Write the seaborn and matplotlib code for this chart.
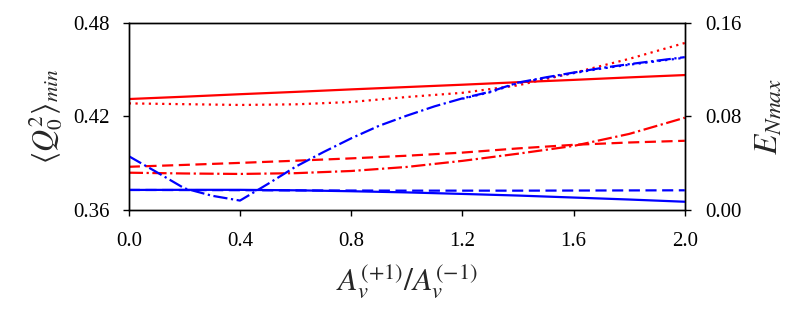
import numpy as np
import pandas as pd
import seaborn as sns
import matplotlib.pyplot as plt

# x grid (ratio A_v^(+1)/A_v^(-1))
ratio = [0.0, 0.2, 0.4, 0.6, 0.8, 1.0, 1.2, 1.4, 1.6, 1.8, 2.0]
ratio_fine = [0.0, 0.1, 0.2, 0.3, 0.4, 0.5, 0.6, 0.7, 0.8, 0.9, 1.0,
              1.1, 1.2, 1.3, 1.4, 1.5, 1.6, 1.7, 1.8, 1.9, 2.0]

# <Q0^2>_min curves (left axis, red)
q_solid = [0.4312, 0.4327, 0.4343, 0.4358, 0.4374, 0.4389, 0.4404, 0.4420, 0.4435, 0.4451, 0.4466]
q_dashed = [0.3877, 0.3889, 0.3902, 0.3916, 0.3931, 0.3948, 0.3968, 0.3995, 0.4018, 0.4033, 0.4044]
q_dashdot = [0.3839, 0.3834, 0.3831, 0.3836, 0.3850, 0.3876, 0.3915, 0.3961, 0.4011, 0.4088, 0.4192]
q_dotted = [0.4284, 0.4279, 0.4274, 0.4278, 0.4293, 0.4325, 0.4352, 0.4400, 0.4480, 0.4570, 0.4672]

# E_Nmax curves (right axis, blue)
e_solid = [0.0171, 0.0172, 0.0172, 0.0168, 0.0160, 0.0150, 0.0137, 0.0123, 0.0106, 0.0089, 0.0070]
e_dashed = [0.0171, 0.0170, 0.0169, 0.0167, 0.0166, 0.0165, 0.0165, 0.0165, 0.0166, 0.0167, 0.0168]
e_dashdot = [0.0460, 0.0324, 0.0185, 0.0121, 0.0080, 0.0222, 0.0370, 0.0495, 0.0613, 0.0720, 0.0807,
             0.0887, 0.0955, 0.1012, 0.1090, 0.1135, 0.1176, 0.1215, 0.1248, 0.1278, 0.1308]
e_dotted = [np.nan] * 12 + [0.0952, 0.1008, 0.1086, 0.1130, 0.1171, 0.1210, 0.1243, 0.1273, 0.1303]

sns.set_style("ticks")
plt.rcParams['font.family'] = ['Liberation Serif', 'DejaVu Serif']
plt.rcParams['mathtext.fontset'] = 'stix'

fig = plt.figure(figsize=(8, 3.2), dpi=100)
ax = fig.add_axes([0.161, 0.344, 0.695, 0.584])
ax2 = ax.twinx()

lw = 1.6
red = "#ff0000"
blue = "#0000ff"

sns.lineplot(x=ratio, y=q_solid, ax=ax, color=red, lw=lw, linestyle="-")
sns.lineplot(x=ratio, y=q_dashed, ax=ax, color=red, lw=lw, linestyle=(0, (5, 2.5)))
sns.lineplot(x=ratio, y=q_dashdot, ax=ax, color=red, lw=lw, linestyle="-.")
sns.lineplot(x=ratio, y=q_dotted, ax=ax, color=red, lw=lw, linestyle=(0, (1, 2)))

sns.lineplot(x=ratio, y=e_solid, ax=ax2, color=blue, lw=lw, linestyle="-")
sns.lineplot(x=ratio, y=e_dashed, ax=ax2, color=blue, lw=lw, linestyle=(0, (5, 2.5)))
sns.lineplot(x=ratio_fine, y=e_dashdot, ax=ax2, color=blue, lw=lw, linestyle="-.")
sns.lineplot(x=ratio_fine, y=e_dotted, ax=ax2, color=blue, lw=lw, linestyle=(0, (1, 2)))

ax.set_xlim(0, 2.0)
ax.set_ylim(0.36, 0.48)
ax2.set_ylim(0.0, 0.16)
ax.set_xticks([0.0, 0.4, 0.8, 1.2, 1.6, 2.0])
ax.set_xticklabels(["0.0", "0.4", "0.8", "1.2", "1.6", "2.0"])
ax.set_yticks([0.36, 0.42, 0.48])
ax.set_yticklabels(["0.36", "0.42", "0.48"])
ax2.set_yticks([0.0, 0.08, 0.16])
ax2.set_yticklabels(["0.00", "0.08", "0.16"])

for a in (ax, ax2):
    a.tick_params(direction="out", length=4, width=1, labelsize=15, colors="black")
    for s in a.spines.values():
        s.set_visible(True)
        s.set_linewidth(1.0)
        s.set_color("black")
ax.tick_params(axis="x", pad=12)
ax.tick_params(axis="y", pad=10)
ax2.tick_params(axis="y", pad=11)

ax.set_xlabel(r"$A_v^{(+1)}/A_v^{(-1)}$", fontsize=23, labelpad=8)
ax.set_ylabel(r"$\langle Q_0^2\rangle_{min}$", fontsize=22, labelpad=6)
ax2.set_ylabel(r"$E_{N max}$", fontsize=24, labelpad=8)

fig.savefig("out.png", dpi=100)
